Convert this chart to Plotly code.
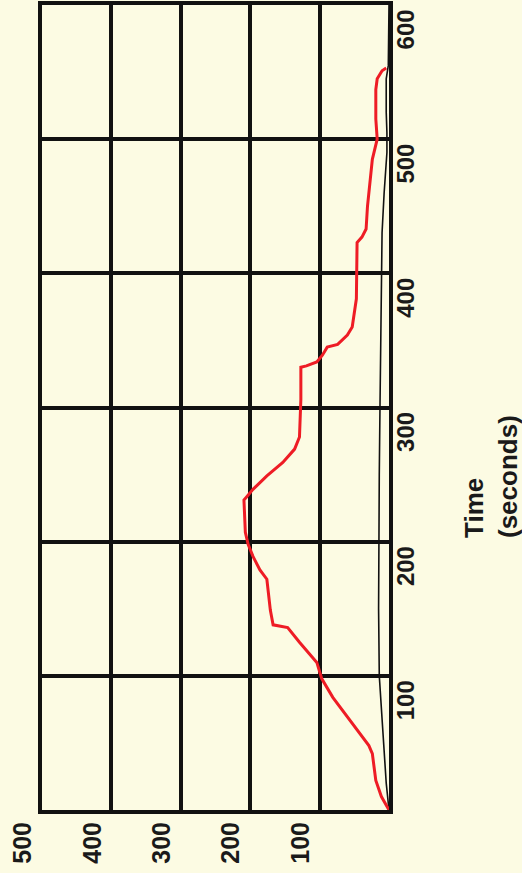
import plotly.graph_objects as go

# Time (seconds) and values
red_time = [0, 10, 22, 42, 48, 67, 84, 98, 110, 125, 136, 138, 149, 172, 179, 189, 198, 207,
            231, 234, 239, 249, 259, 269, 278, 306, 330, 331, 334, 339, 345, 347, 354, 360,
            381, 423, 427, 433, 450, 485, 500, 515, 537, 545, 551, 553]
red_value = [0, 11, 19, 24, 29, 57, 81, 97, 104, 129, 146, 167, 171, 176, 186, 196, 203, 207,
             209, 204, 196, 176, 153, 136, 129, 127, 127, 119, 104, 96, 89, 74, 60, 53,
             47, 46, 39, 33, 31, 24, 17, 19, 19, 17, 10, 4]

black_time = [0, 20, 60, 100, 150, 200, 250, 300, 350, 400, 430, 460, 490, 505, 520, 545, 555, 600]
black_value = [0, 4, 9, 14, 15, 15, 14, 13, 12, 11, 10, 7, 3, 3, 4, 4, 1, 0]

value_ticks = [100, 200, 300, 400, 500]
time_ticks = [100, 200, 300, 400, 500, 600]

BG = "#FCFBE3"
FONT = "Liberation Sans, Arial, sans-serif"

fig = go.Figure()
fig.add_trace(go.Scatter(x=black_value, y=black_time, mode="lines",
                         line=dict(color="#111111", width=1.6), showlegend=False))
fig.add_trace(go.Scatter(x=red_value, y=red_time, mode="lines",
                         line=dict(color="#EE1C25", width=3), showlegend=False))

W, H = 522, 873
L, R, T, B = 42, 133, 5, 63

fig.update_layout(
    width=W, height=H,
    margin=dict(l=L, r=R, t=T, b=B, pad=0, autoexpand=False),
    paper_bgcolor=BG, plot_bgcolor=BG,
    font=dict(family=FONT, size=24, color="#1a1a1a"),
    xaxis=dict(range=[500, 0], tickvals=value_ticks, ticktext=[str(v) for v in value_ticks],
               tickangle=-90, showgrid=True, gridcolor="#111111", gridwidth=4,
               zeroline=False, showline=True, linecolor="#111111", linewidth=4, mirror=True,
               ticks="", ticklen=0, ticklabelshift=19, ticklabelstandoff=-2, automargin=False,
               tickfont=dict(family=FONT, size=25, color="#1a1a1a", weight="bold")),
    yaxis=dict(range=[0, 600], tickvals=time_ticks, ticktext=[str(v) for v in time_ticks],
               side="right", tickangle=-90, showgrid=True, gridcolor="#111111", gridwidth=4,
               zeroline=False, showline=True, linecolor="#111111", linewidth=4, mirror=True,
               ticks="", ticklen=0, ticklabelshift=28, ticklabelstandoff=-8, automargin=False,
               tickfont=dict(family=FONT, size=24, color="#1a1a1a", weight="bold")),
)

pw = W - L - R
ph = H - T - B
fig.add_annotation(
    text="<b>Time</b><br><b>(seconds)</b>", textangle=-90, align="left",
    xref="paper", yref="paper", x=(491 - L) / pw, y=(H - B - 477) / ph,
    xanchor="center", yanchor="middle", showarrow=False,
    font=dict(family=FONT, size=26, color="#1a1a1a"),
)

fig.write_html("out.html", config={"displayModeBar": False},
               post_script="document.body.style.margin='0';")
